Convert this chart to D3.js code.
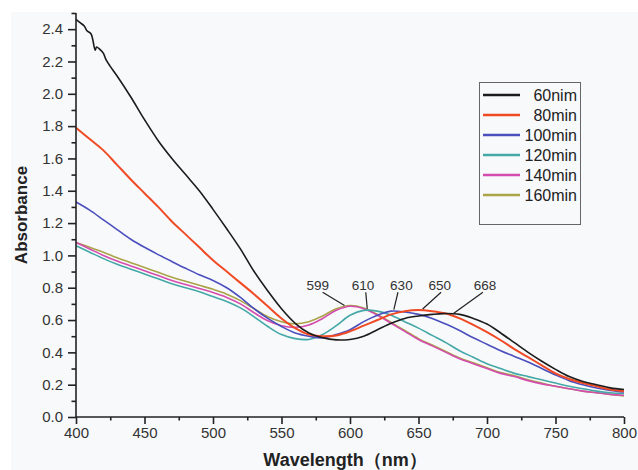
<!DOCTYPE html>
<html>
<head>
<meta charset="utf-8">
<script src="https://cdn.jsdelivr.net/npm/d3@7"></script>
<style>
  body { margin: 0; background: #fff; }
  svg { display: block; font-family: "Liberation Sans", Arial, sans-serif; }
</style>
</head>
<body>
<div id="chart"></div>
<script>
// data
const wavelengths = [400, 410, 420, 430, 440, 450, 460, 470, 480, 490, 500, 510, 520, 530, 540, 550, 560, 570, 580, 590, 600,
  610, 620, 630, 640, 650, 660, 670, 680, 690, 700, 710, 720, 730, 740, 750, 760, 770, 780, 790, 800];

// 60 min is noisy at the short-wavelength end, so it gets its own x values
const wl60 = [400, 403, 406, 408, 411, 414, 415, 418, 420, 422, 425, 430, 440, 450, 460, 470, 480, 490, 500, 510, 520, 530, 540, 550,
  560, 570, 580, 590, 600, 610, 620, 630, 640, 650, 660, 668, 680, 690, 700, 710, 720, 730, 740, 750, 760, 770, 780, 790, 800];
const abs60 = [2.46, 2.44, 2.42, 2.39, 2.37, 2.27, 2.29, 2.27, 2.25, 2.21, 2.17, 2.11, 1.98, 1.84, 1.71, 1.60, 1.50, 1.40, 1.285, 1.165, 1.04, 0.90, 0.78, 0.67,
  0.58, 0.52, 0.49, 0.477, 0.48, 0.50, 0.54, 0.58, 0.61, 0.625, 0.635, 0.64, 0.635, 0.61, 0.575, 0.52, 0.46, 0.40, 0.345, 0.295, 0.25, 0.22, 0.20, 0.18, 0.17];

const abs80 = [1.79, 1.72, 1.65, 1.56, 1.47, 1.385, 1.30, 1.21, 1.13, 1.05, 0.97, 0.90, 0.83, 0.76, 0.685, 0.61, 0.55, 0.51, 0.50, 0.505, 0.53,
  0.565, 0.60, 0.635, 0.655, 0.662, 0.655, 0.64, 0.61, 0.57, 0.525, 0.475, 0.42, 0.37, 0.32, 0.27, 0.235, 0.21, 0.19, 0.17, 0.16];
const abs100 = [1.33, 1.28, 1.22, 1.16, 1.10, 1.05, 1.005, 0.962, 0.92, 0.88, 0.845, 0.80, 0.74, 0.67, 0.61, 0.56, 0.52, 0.50, 0.49, 0.51, 0.54,
  0.59, 0.63, 0.655, 0.65, 0.635, 0.61, 0.575, 0.535, 0.49, 0.45, 0.41, 0.375, 0.34, 0.30, 0.26, 0.225, 0.20, 0.18, 0.165, 0.155];
const abs120 = [1.06, 1.02, 0.98, 0.945, 0.915, 0.885, 0.855, 0.825, 0.80, 0.775, 0.745, 0.715, 0.675, 0.62, 0.56, 0.51, 0.485, 0.48, 0.51, 0.565, 0.63,
  0.66, 0.655, 0.63, 0.59, 0.55, 0.505, 0.46, 0.41, 0.37, 0.33, 0.30, 0.27, 0.25, 0.23, 0.21, 0.19, 0.175, 0.16, 0.15, 0.145];
const abs140 = [1.08, 1.04, 1.00, 0.965, 0.935, 0.905, 0.875, 0.845, 0.82, 0.795, 0.77, 0.74, 0.70, 0.645, 0.595, 0.565, 0.555, 0.57, 0.61, 0.66, 0.685,
  0.67, 0.63, 0.58, 0.53, 0.48, 0.44, 0.40, 0.36, 0.33, 0.30, 0.27, 0.25, 0.225, 0.205, 0.19, 0.175, 0.16, 0.15, 0.14, 0.135];
const abs160 = [1.08, 1.05, 1.02, 0.985, 0.955, 0.925, 0.895, 0.865, 0.84, 0.815, 0.79, 0.76, 0.72, 0.67, 0.62, 0.59, 0.577, 0.59, 0.625, 0.67, 0.69,
  0.675, 0.635, 0.585, 0.535, 0.485, 0.445, 0.405, 0.365, 0.335, 0.305, 0.275, 0.255, 0.23, 0.21, 0.19, 0.175, 0.16, 0.15, 0.14, 0.13];

const seriesNames = ['60nim', '80min', '100min', '120min', '140min', '160min'];
const seriesColors = ['#1c1c1c', '#f04a25', '#4b4fbd', '#43a8a6', '#d44cae', '#a9a447'];

const xTicks = [400, 450, 500, 550, 600, 650, 700, 750, 800];
const yTicks = [0.0, 0.2, 0.4, 0.6, 0.8, 1.0, 1.2, 1.4, 1.6, 1.8, 2.0, 2.2, 2.4];

// peak labels and their leader lines (data units)
const peakLabels = ['599', '610', '630', '650', '668'];
const labelX = [576.5, 609.5, 637.5, 665.5, 698.5];
const leadX = [580, 611.5, 635, 666.5, 697];
const peakX = [596, 612.6, 632, 653, 675];
const peakY = [0.69, 0.67, 0.665, 0.668, 0.638];

// config
const width = 638, height = 470;
const margin = { left: 76, right: 14, top: 13, bottom: 53 };

const series = [
  { name: seriesNames[0], color: seriesColors[0], xs: wl60, ys: abs60 },
  { name: seriesNames[1], color: seriesColors[1], xs: wavelengths, ys: abs80 },
  { name: seriesNames[2], color: seriesColors[2], xs: wavelengths, ys: abs100 },
  { name: seriesNames[3], color: seriesColors[3], xs: wavelengths, ys: abs120 },
  { name: seriesNames[4], color: seriesColors[4], xs: wavelengths, ys: abs140 },
  { name: seriesNames[5], color: seriesColors[5], xs: wavelengths, ys: abs160 }
];

const svg = d3.select('#chart')
  .append('svg')
  .attr('width', width)
  .attr('height', height);

// light page background
svg.append('rect')
  .attr('x', 11).attr('y', 12)
  .attr('width', width - 11).attr('height', height - 12)
  .attr('fill', '#f8f9fb');

const x = d3.scaleLinear().domain([400, 800]).range([margin.left, width - margin.right]);
const y = d3.scaleLinear().domain([0, 2.5]).range([height - margin.bottom, margin.top]);

// curves (drawn so 60 min ends up on top, as in the original)
const line = d3.line()
  .x(d => x(d[0]))
  .y(d => y(d[1]))
  .curve(d3.curveCatmullRom.alpha(0.5));

svg.append('g')
  .attr('class', 'curves')
  .selectAll('path')
  .data(series.slice().reverse())
  .enter()
  .append('path')
  .attr('d', s => line(s.xs.map((v, i) => [v, s.ys[i]])))
  .attr('fill', 'none')
  .attr('stroke', s => s.color)
  .attr('stroke-width', s => s.name === '80min' ? 2 : 1.6);

// axes
const axisColor = '#222';

const xAxis = svg.append('g')
  .attr('transform', `translate(0,${y(0)})`)
  .call(d3.axisBottom(x).tickValues(xTicks).tickSize(7).tickPadding(5).tickFormat(d3.format('d')));
svg.append('g')
  .attr('transform', `translate(0,${y(0)})`)
  .call(d3.axisBottom(x).tickValues(d3.range(425, 800, 50)).tickSize(3.5).tickFormat(''))
  .select('.domain').remove();

const yAxis = svg.append('g')
  .attr('transform', `translate(${x(400)},0)`)
  .call(d3.axisLeft(y).tickValues(yTicks).tickSize(8).tickPadding(5).tickFormat(d3.format('.1f')));
svg.append('g')
  .attr('transform', `translate(${x(400)},0)`)
  .call(d3.axisLeft(y).tickValues(d3.range(0.1, 2.55, 0.2)).tickSize(4.5).tickFormat(''))
  .select('.domain').remove();

xAxis.select('.domain').attr('d', `M${x(400)},0H${x(800)}`);
yAxis.select('.domain').attr('d', `M0,${y(0)}V${y(2.5)}`);
svg.selectAll('.domain, .tick line')
  .attr('stroke', axisColor)
  .attr('stroke-width', 1.6);
svg.selectAll('.tick text')
  .attr('fill', '#333')
  .style('font-size', '15px')
  .style('font-family', '"Liberation Sans", Arial, sans-serif');
xAxis.selectAll('.tick text').attr('dy', '0.71em').attr('y', 10);

// axis titles
svg.append('text')
  .attr('x', 345)
  .attr('y', 466)
  .attr('text-anchor', 'middle')
  .attr('fill', '#222')
  .style('font-size', '18px')
  .style('font-weight', 'bold')
  .text('Wavelength（nm）');

svg.append('text')
  .attr('transform', `translate(27,${y(1.25)}) rotate(-90)`)
  .attr('text-anchor', 'middle')
  .attr('fill', '#222')
  .style('font-size', '17px')
  .style('font-weight', 'bold')
  .text('Absorbance');

// peak annotations
const notes = svg.append('g').attr('class', 'peaks');
notes.selectAll('line')
  .data(peakLabels)
  .enter()
  .append('line')
  .attr('x1', (d, i) => x(leadX[i]))
  .attr('y1', y(0.772))
  .attr('x2', (d, i) => x(peakX[i]))
  .attr('y2', (d, i) => y(peakY[i]))
  .attr('stroke', '#222')
  .attr('stroke-width', 1.2);
notes.selectAll('text')
  .data(peakLabels)
  .enter()
  .append('text')
  .attr('x', (d, i) => x(labelX[i]))
  .attr('y', y(0.786))
  .attr('text-anchor', 'middle')
  .attr('fill', '#333')
  .style('font-size', '13.5px')
  .text(d => d);

// legend
const legend = svg.append('g').attr('class', 'legend');
legend.append('rect')
  .attr('x', 479.5).attr('y', 82.5)
  .attr('width', 101).attr('height', 142)
  .attr('fill', 'none')
  .attr('stroke', '#666')
  .attr('stroke-width', 1);

const rows = legend.selectAll('g.row')
  .data(series)
  .enter()
  .append('g')
  .attr('class', 'row')
  .attr('transform', (d, i) => `translate(0,${95 + i * 20})`);
rows.append('line')
  .attr('x1', 483).attr('x2', 520)
  .attr('y1', 0).attr('y2', 0)
  .attr('stroke', d => d.color)
  .attr('stroke-width', 2.5);
rows.append('text')
  .attr('x', 577)
  .attr('y', 5.5)
  .attr('text-anchor', 'end')
  .attr('fill', '#222')
  .style('font-size', '16px')
  .text(d => d.name);
</script>
</body>
</html>
